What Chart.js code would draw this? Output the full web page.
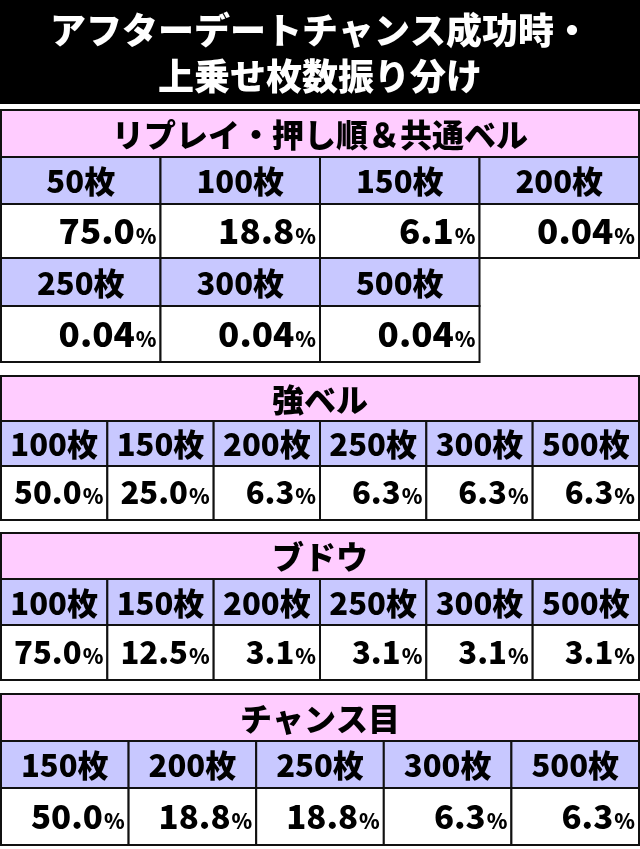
<!DOCTYPE html>
<html><head><meta charset="utf-8">
<style>html,body{margin:0;padding:0;background:#fff}#wrap{width:640px;height:849px}</style>
</head><body>
<div id="wrap"><canvas id="myChart"></canvas></div>
<script src="https://cdn.jsdelivr.net/npm/chart.js"></script>
<script>
const titleLines = ['アフターデートチャンス成功時・', '上乗せ枚数振り分け'];

const sec1Name = 'リプレイ・押し順＆共通ベル';
const sec1Labels = ['50枚', '100枚', '150枚', '200枚', '250枚', '300枚', '500枚'];
const sec1Values = ['75.0', '18.8', '6.1', '0.04', '0.04', '0.04', '0.04'];

const sec2Name = '強ベル';
const sec2Labels = ['100枚', '150枚', '200枚', '250枚', '300枚', '500枚'];
const sec2Values = ['50.0', '25.0', '6.3', '6.3', '6.3', '6.3'];

const sec3Name = 'ブドウ';
const sec3Labels = ['100枚', '150枚', '200枚', '250枚', '300枚', '500枚'];
const sec3Values = ['75.0', '12.5', '3.1', '3.1', '3.1', '3.1'];

const sec4Name = 'チャンス目';
const sec4Labels = ['150枚', '200枚', '250枚', '300枚', '500枚'];
const sec4Values = ['50.0', '18.8', '18.8', '6.3', '6.3'];

const FONT = '"Noto Sans CJK JP", "Noto Sans", sans-serif';

// sections: name, labels, values, columns, y of header / label / value rows
const sections = [
  { name: sec1Name, labels: sec1Labels, values: sec1Values, cols: 4, top: 110, rows: [[157, 204], [258, 306]], end: 362, big: 35 },
  { name: sec2Name, labels: sec2Labels, values: sec2Values, cols: 6, top: 376, rows: [[421, 466]], end: 520, big: 31 },
  { name: sec3Name, labels: sec3Labels, values: sec3Values, cols: 6, top: 533, rows: [[579, 625]], end: 680, big: 31 },
  { name: sec4Name, labels: sec4Labels, values: sec4Values, cols: 5, top: 694, rows: [[741, 788]], end: 845, big: 33 }
];

const tablePlugin = {
  id: 'table',
  afterDraw(chart) {
    const c = chart.ctx, xs = chart.scales.x, ys = chart.scales.y;
    const X = v => xs.getPixelForValue(v), Y = v => ys.getPixelForValue(v);
    c.save();
    // title
    c.fillStyle = '#000';
    c.fillRect(X(0), Y(0), X(640) - X(0), Y(104) - Y(0));
    c.fillStyle = '#fff';
    c.textAlign = 'center';
    c.textBaseline = 'middle';
    c.font = '900 36px ' + FONT;
    c.fillText(titleLines[0], X(320), Y(30));
    c.fillText(titleLines[1], X(320), Y(76));

    const cell = (x0, y0, x1, y1, fill) => {
      c.fillStyle = fill;
      c.fillRect(X(x0), Y(y0), X(x1) - X(x0), Y(y1) - Y(y0));
      c.strokeStyle = '#111';
      c.lineWidth = 2;
      c.strokeRect(X(x0), Y(y0), X(x1) - X(x0), Y(y1) - Y(y0));
    };

    sections.forEach(s => {
      const w = 638 / s.cols;
      cell(1, s.top, 639, s.rows[0][0], '#ffccff');
      c.fillStyle = '#000';
      c.textAlign = 'center';
      c.font = '900 32px ' + FONT;
      c.fillText(s.name, X(320), Y((s.top + s.rows[0][0]) / 2 + 1));
      s.labels.forEach((lab, i) => {
        const r = Math.floor(i / s.cols), k = i % s.cols;
        const ly = s.rows[r][0], vy = s.rows[r][1];
        const vEnd = r + 1 < s.rows.length ? s.rows[r + 1][0] : s.end;
        const x0 = 1 + k * w, x1 = x0 + w;
        cell(x0, ly, x1, vy, '#c8c8ff');
        cell(x0, vy, x1, vEnd, '#fff');
        c.fillStyle = '#000';
        c.textAlign = 'center';
        c.font = '900 31px ' + FONT;
        c.fillText(lab, X((x0 + x1) / 2), Y((ly + vy) / 2 + 1));
        c.textAlign = 'right';
        c.textBaseline = 'alphabetic';
        c.font = '900 21px ' + FONT;
        const pw = c.measureText('%').width;
        const base = Y((vy + vEnd) / 2 + s.big * 0.37);
        c.fillText('%', X(x1 - 4), base);
        c.font = '900 ' + s.big + 'px ' + FONT;
        c.fillText(s.values[i], X(x1 - 5) - pw, base);
        c.textBaseline = 'middle';
      });
    });
    c.restore();
  }
};

new Chart(document.getElementById('myChart'), {
  type: 'scatter',
  data: { datasets: [{ data: [] }] },
  options: {
    responsive: true,
    maintainAspectRatio: false,
    animation: false,
    layout: { padding: 0 },
    plugins: { legend: { display: false }, tooltip: { enabled: false } },
    scales: {
      x: { type: 'linear', min: 0, max: 640, display: false },
      y: { type: 'linear', min: 0, max: 849, reverse: true, display: false }
    }
  },
  plugins: [tablePlugin]
});
</script>
</body></html>
